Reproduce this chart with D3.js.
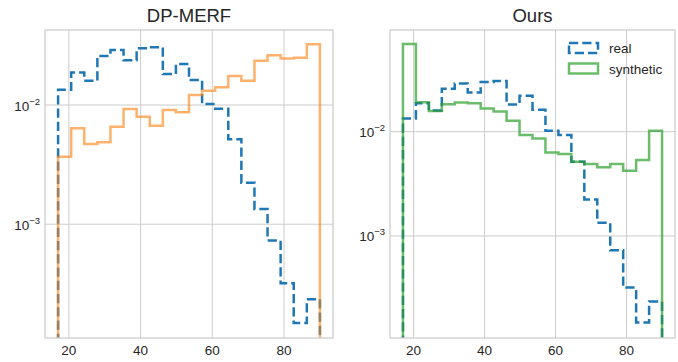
<!DOCTYPE html>
<html>
<head>
<meta charset="utf-8">
<script src="https://cdn.jsdelivr.net/npm/d3@7/dist/d3.min.js"></script>
<style>
  body { margin: 0; background: #fff; }
  svg { font-family: "Liberation Sans", Arial, sans-serif; }
  .tick-label { fill: #262626; font-size: 13.5px; }
  .title { fill: #262626; font-size: 18.5px; }
</style>
</head>
<body>
<div id="chart"></div>
<script>
// bin edges of the age histograms (20 bins, 17..90)
var binEdges = [17, 20.65, 24.3, 27.95, 31.6, 35.25, 38.9, 42.55, 46.2, 49.85, 53.5,
                57.15, 60.8, 64.45, 68.1, 71.75, 75.4, 79.05, 82.7, 86.35, 90];

// density of the real data
var realDensity = [0.0134, 0.0187, 0.0160, 0.0258, 0.0289, 0.0238, 0.0299, 0.0306, 0.0182, 0.0221,
                   0.0162, 0.0102, 0.0093, 0.00515, 0.00223, 0.00134, 0.00073, 0.00032, 0.000148, 0.000235];

// synthetic densities
var dpmerfDensity = [0.00369, 0.00638, 0.00471, 0.00487, 0.00658, 0.00926, 0.00798, 0.0067, 0.00908, 0.00869,
                     0.01213, 0.0132, 0.0141, 0.0175, 0.0160, 0.0235, 0.0261, 0.0246, 0.0249, 0.0324];
var oursDensity = [0.0693, 0.0191, 0.0158, 0.0183, 0.0190, 0.0187, 0.0167, 0.0156, 0.0127, 0.0093,
                   0.0086, 0.0063, 0.0061, 0.00515, 0.0049, 0.00456, 0.0049, 0.00422, 0.00536, 0.0102];

var xTicks = [20, 40, 60, 80];
var yTicks = [1e-2, 1e-3];
var yTickLabels = ["\u22122", "\u22123"];

var svgWidth = 678;
var svgHeight = 362;

var svg = d3.select("#chart")
  .append("svg")
  .attr("width", svgWidth)
  .attr("height", svgHeight);

function drawPanel(opts) {
  var left = opts.left, right = opts.right, top = 30, bottom = 338;

  var xScale = d3.scaleLinear()
    .domain([13.35, 93.65])
    .range([left, right]);

  var yScale = d3.scaleLog()
    .domain(opts.yDomain)
    .range([bottom, top]);

  var g = svg.append("g");

  // clip to axes area
  g.append("clipPath")
    .attr("id", opts.id + "-clip")
    .append("rect")
    .attr("x", left).attr("y", top)
    .attr("width", right - left).attr("height", bottom - top);

  // grid
  g.selectAll(".xgrid")
    .data(xTicks)
    .join("line")
    .attr("x1", d => xScale(d)).attr("x2", d => xScale(d))
    .attr("y1", top).attr("y2", bottom)
    .attr("stroke", "#cccccc").attr("stroke-width", 1);

  g.selectAll(".ygrid")
    .data(yTicks)
    .join("line")
    .attr("x1", left).attr("x2", right)
    .attr("y1", d => yScale(d)).attr("y2", d => yScale(d))
    .attr("stroke", "#cccccc").attr("stroke-width", 1);

  // tick labels
  g.selectAll(".xlab")
    .data(xTicks)
    .join("text")
    .attr("class", "tick-label")
    .attr("x", d => xScale(d))
    .attr("y", 355)
    .attr("text-anchor", "middle")
    .text(d => d);

  yTicks.forEach(function(t, i) {
    var txt = g.append("text")
      .attr("class", "tick-label")
      .attr("x", left - 5)
      .attr("y", yScale(t) + 5.5)
      .attr("text-anchor", "end");
    txt.append("tspan").text("10");
    txt.append("tspan")
      .attr("dy", -6)
      .attr("font-size", "9.5px")
      .text(yTickLabels[i]);
  });

  // histogram step lines
  var line = d3.line()
    .x(d => xScale(d[0]))
    .y(d => yScale(d[1]));

  function stepPoints(values) {
    var pts = [[binEdges[0], 1e-9]];
    values.forEach(function(v, i) {
      pts.push([binEdges[i], v]);
      pts.push([binEdges[i + 1], v]);
    });
    pts.push([binEdges[binEdges.length - 1], 1e-9]);
    return pts;
  }

  var plot = g.append("g").attr("clip-path", "url(#" + opts.id + "-clip)");

  plot.append("path")
    .attr("d", line(stepPoints(realDensity)))
    .attr("fill", "none")
    .attr("stroke", "#1f77b4")
    .attr("stroke-width", 2.5)
    .attr("stroke-dasharray", "9.25,4");

  plot.append("path")
    .attr("d", line(stepPoints(opts.synth)))
    .attr("fill", "none")
    .attr("stroke", opts.color)
    .attr("stroke-opacity", opts.alpha)
    .attr("stroke-width", 2.5);

  // frame
  g.append("rect")
    .attr("x", left).attr("y", top)
    .attr("width", right - left).attr("height", bottom - top)
    .attr("fill", "none")
    .attr("stroke", "#cccccc")
    .attr("stroke-width", 1.25);

  // title
  g.append("text")
    .attr("class", "title")
    .attr("x", (left + right) / 2)
    .attr("y", 22)
    .attr("text-anchor", "middle")
    .text(opts.title);

  return g;
}

drawPanel({
  id: "dpmerf", left: 45, right: 333,
  yDomain: [1.11e-4, 0.0426],
  synth: dpmerfDensity, color: "#ff7f0e", alpha: 0.6,
  title: "DP-MERF"
});

var ours = drawPanel({
  id: "ours", left: 390, right: 675,
  yDomain: [1.05e-4, 0.0944],
  synth: oursDensity, color: "#2ca02c", alpha: 0.7,
  title: "Ours"
});

// legend
var legendItems = [
  {label: "real", color: "#1f77b4", alpha: 1, dash: "9.25,4"},
  {label: "synthetic", color: "#2ca02c", alpha: 0.7, dash: null}
];

var legend = ours.append("g");
legendItems.forEach(function(d, i) {
  var y = 43 + i * 20.5;
  legend.append("rect")
    .attr("x", 569).attr("y", y)
    .attr("width", 29).attr("height", 10)
    .attr("fill", "none")
    .attr("stroke", d.color)
    .attr("stroke-opacity", d.alpha)
    .attr("stroke-width", 2.5)
    .attr("stroke-dasharray", d.dash);
  legend.append("text")
    .attr("class", "tick-label")
    .attr("x", 609)
    .attr("y", y + 10)
    .text(d.label);
});
</script>
</body>
</html>
